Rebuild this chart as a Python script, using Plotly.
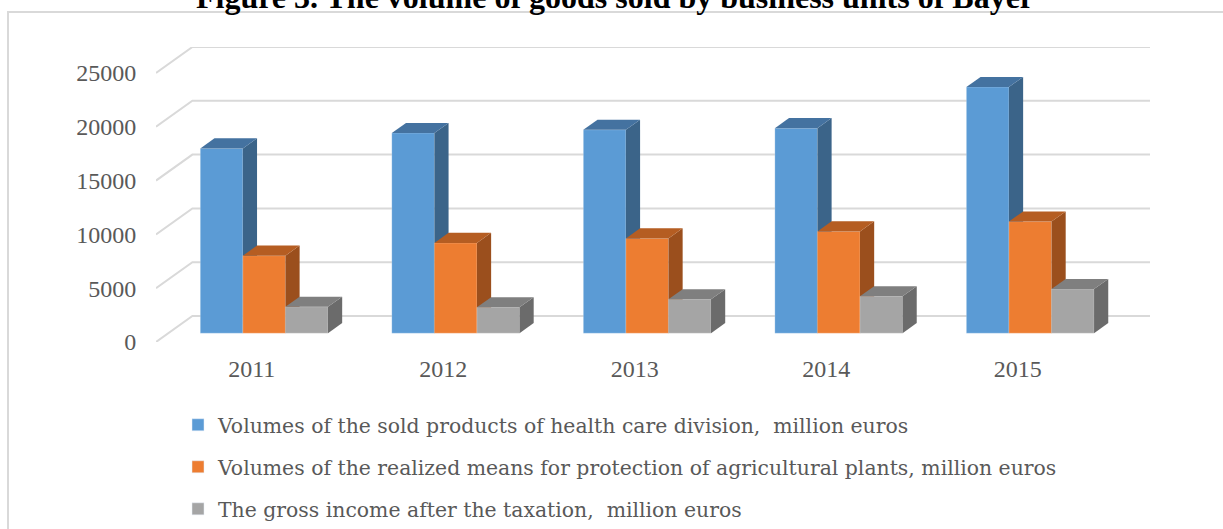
import plotly.graph_objects as go

# ---------------- data ----------------
years = ["2011", "2012", "2013", "2014", "2015"]
health_care = [17170, 18600, 18900, 19050, 22870]
crop_protection = [7200, 8380, 8800, 9450, 10370]
net_income = [2450, 2400, 3150, 3420, 4100]
series_names = [
    "Volumes of the sold products of health care division,  million euros",
    "Volumes of the realized means for protection of agricultural plants, million euros",
    "The gross income after the taxation,  million euros",
]
y_ticks = [0, 5000, 10000, 15000, 20000, 25000]
title_text = "Figure 3. The volume of goods sold by business units of Bayer"

# ---------------- styling / geometry ----------------
W, H = 1223, 529
L, R, T, B = 156, 1150, 47, 342          # plot area in pixels
DX = 0.19                                 # depth of the box along x (category units)
DY = 2416                                 # depth of the box along y (value units)
F1, F2 = 0.34, 0.73                       # bar front/back as fraction of depth
GROUP = 2 / 3                             # group width (gap width 50%)
BW = GROUP / 3

front_cols = ["#5B9BD5", "#ED7D31", "#A5A5A5"]
side_cols = ["#3B6489", "#9B4F1D", "#6B6B6B"]
top_cols = ["#4472A0", "#B55D22", "#7F7F7F"]
grid_col = "#D9D9D9"
text_col = "#595959"
FONT = "Liberation Serif"
LEGEND_FONT = "DejaVu Serif"

series = [health_care, crop_protection, net_income]
xr = [-0.5, 4.5 + DX]
yr = [0, 25000 + DY]


def px2paper_x(px):
    return (px - L) / (R - L)


def px2paper_y(py):
    return (B - py) / (B - T)


fig = go.Figure()

# back wall gridlines with diagonal edge on the left wall
gx, gy = [], []
for v in y_ticks:
    gx += [-0.5, -0.5 + DX, 4.5 + DX, None]
    gy += [v, v + DY, v + DY, None]
fig.add_trace(go.Scatter(x=gx, y=gy, mode="lines", line=dict(color=grid_col, width=2),
                         hoverinfo="skip", showlegend=False))

# pseudo-3D bars
ddx = (F2 - F1) * DX
ddy = (F2 - F1) * DY
for i in range(len(years)):
    for j, vals in enumerate(series):
        v = vals[i]
        x0 = i - GROUP / 2 + j * BW + F1 * DX
        x1 = x0 + BW
        y0 = F1 * DY
        y1 = y0 + v
        # front face
        fig.add_trace(go.Scatter(x=[x0, x1, x1, x0, x0], y=[y0, y0, y1, y1, y0],
                                 fill="toself", fillcolor=front_cols[j], mode="lines",
                                 line=dict(width=0.6, color="rgba(255,255,255,0.35)"),
                                 hoverinfo="skip", showlegend=False))
        # side face
        fig.add_trace(go.Scatter(x=[x1, x1 + ddx, x1 + ddx, x1, x1],
                                 y=[y0, y0 + ddy, y1 + ddy, y1, y0],
                                 fill="toself", fillcolor=side_cols[j], mode="lines",
                                 line=dict(width=0), hoverinfo="skip", showlegend=False))
        # top face
        fig.add_trace(go.Scatter(x=[x0, x1, x1 + ddx, x0 + ddx, x0],
                                 y=[y1, y1, y1 + ddy, y1 + ddy, y1],
                                 fill="toself", fillcolor=top_cols[j], mode="lines",
                                 line=dict(width=0), hoverinfo="skip", showlegend=False))

# legend entries
for j, name in enumerate(series_names):
    fig.add_trace(go.Bar(x=[None], y=[None], name=name, marker_color=front_cols[j],
                         legendgroup=str(j)))

# title (partly cut off at the top, as in the reference)
fig.add_annotation(text="<b>" + title_text + "</b>", xref="paper", yref="paper",
                   x=px2paper_x(615), y=px2paper_y(-3), xanchor="center", yanchor="middle",
                   showarrow=False, font=dict(family=FONT, size=32, color="#000000"))

# outer chart border
fig.add_shape(type="rect", xref="paper", yref="paper",
              x0=px2paper_x(8), x1=px2paper_x(1260), y0=px2paper_y(560), y1=px2paper_y(12),
              line=dict(color=grid_col, width=2), fillcolor="rgba(0,0,0,0)", layer="below")

fig.update_layout(
    width=W, height=H, autosize=False,
    margin=dict(l=L, r=W - R, t=T, b=H - B, pad=0, autoexpand=False),
    paper_bgcolor="white", plot_bgcolor="white",
    showlegend=True,
    legend=dict(x=px2paper_x(178), y=px2paper_y(405), xanchor="left", yanchor="top",
                orientation="v", traceorder="grouped", tracegroupgap=12.5, itemwidth=30,
                font=dict(family=LEGEND_FONT, size=20.4, color=text_col),
                bgcolor="rgba(0,0,0,0)"),
    xaxis=dict(range=xr, tickvals=list(range(len(years))), ticktext=years,
               showgrid=False, zeroline=False, showline=False,
               ticks="outside", ticklen=5, tickcolor="rgba(0,0,0,0)",
               tickfont=dict(family=FONT, size=24, color=text_col), fixedrange=True),
    yaxis=dict(range=yr, tickvals=y_ticks, ticktext=[str(t) for t in y_ticks],
               showgrid=False, zeroline=False, showline=False,
               ticks="outside", ticklen=14, tickcolor="rgba(0,0,0,0)",
               tickfont=dict(family=FONT, size=24, color=text_col), fixedrange=True),
)

fig.write_html("out.html", config={"displayModeBar": False},
               post_script="document.body.style.margin='0px';")
